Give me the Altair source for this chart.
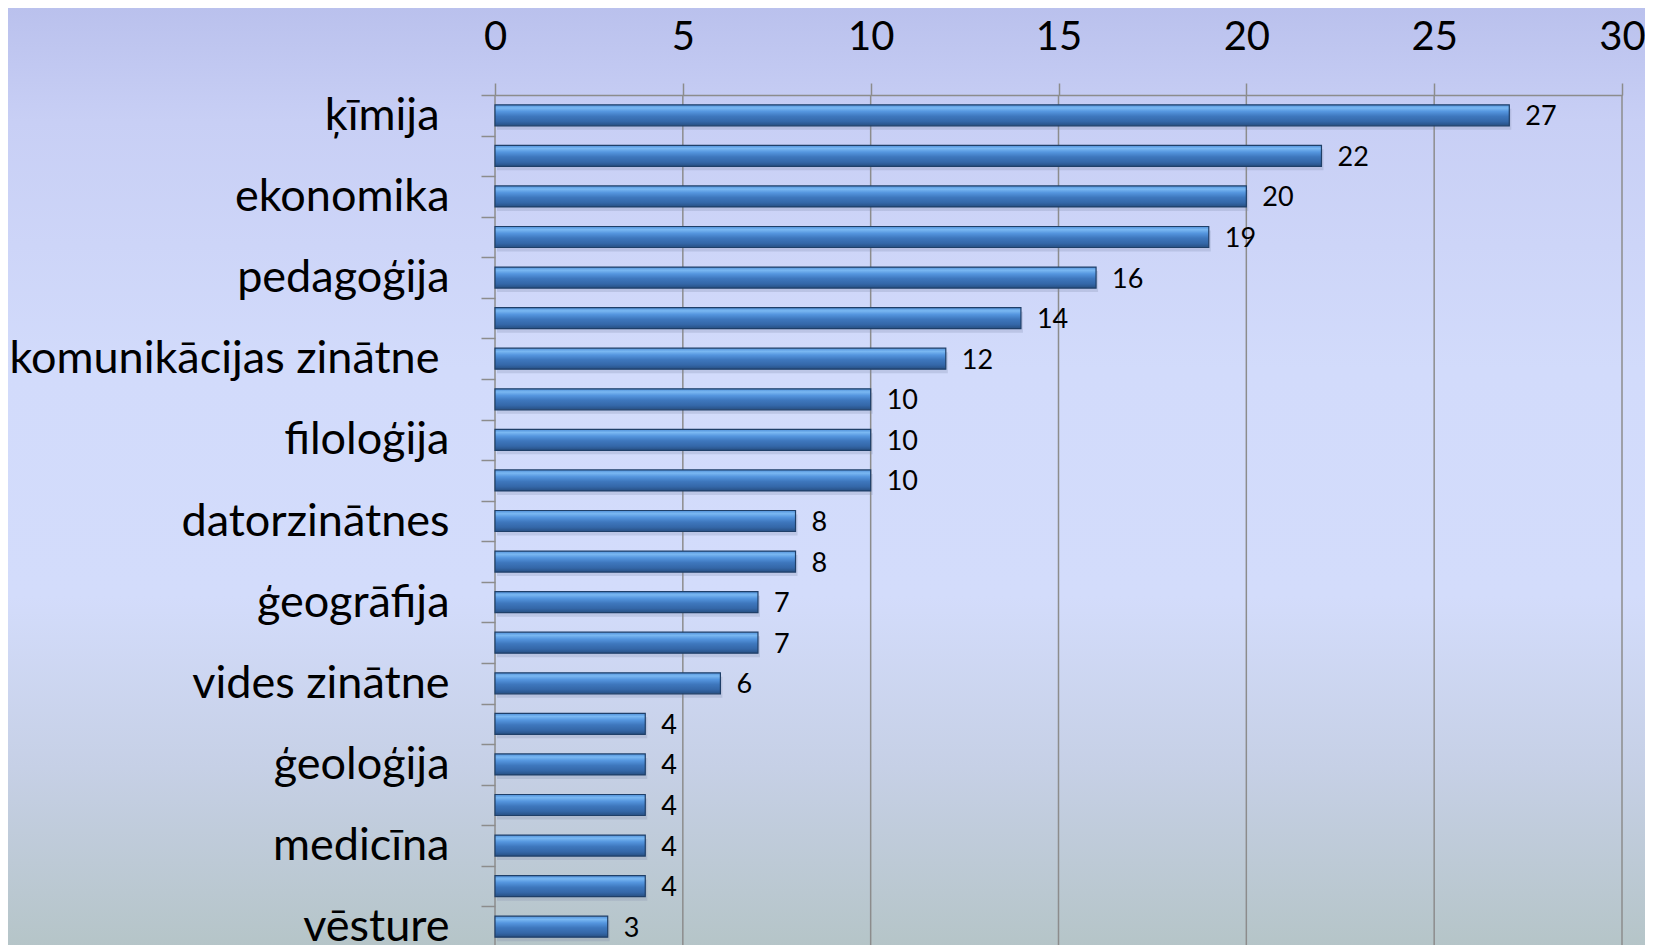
import altair as alt
import pandas as pd

# ---- data ----
categories = [
    "ķīmija", "_2", "ekonomika", "_4", "pedagoģija", "_6",
    "komunikācijas zinātne", "_8", "filoloģija", "_10", "datorzinātnes", "_12",
    "ģeogrāfija", "_14", "vides zinātne", "_16", "ģeoloģija", "_18",
    "medicīna", "_20", "vēsture",
]
values = [27, 22, 20, 19, 16, 14, 12, 10, 10, 10, 8, 8, 7, 7, 6, 4, 4, 4, 4, 4, 3]
x_ticks = [0, 5, 10, 15, 20, 25, 30]

df = pd.DataFrame({"cat": categories, "val": values})
grid_df = pd.DataFrame({"t": x_ticks})
bg_df = pd.DataFrame({"k": [0]})

W, H = 1127, 852
PAD_L, PAD_T, PAD_R, PAD_B = 487, 87, 23, 0
FONT = "Lato"

xscale = alt.Scale(domain=[0, 30], nice=False)
yenc = alt.Y(
    "cat:N",
    sort=categories,
    title=None,
    scale=alt.Scale(paddingInner=0, paddingOuter=0),
    axis=alt.Axis(
        orient="left",
        tickBand="extent",
        tickSize=14,
        tickColor="#8c8c8c",
        tickWidth=1.5,
        domain=False,
        grid=False,
        labelFont=FONT,
        labelFontSize=45,
        labelColor="#000000",
        labelPadding={
            "condition": {
                "test": "datum.value == 'ķīmija' || datum.value == 'komunikācijas zinātne'",
                "value": 42,
            },
            "value": 32,
        },
        labelLimit=600,
        labelExpr="indexof(datum.label, '_') == 0 ? '' : datum.label",
        zindex=1,
    ),
)

bg_grad = alt.Gradient(
    gradient="linear",
    x1=0, x2=0, y1=0, y2=1,
    stops=[
        alt.GradientStop(color="#bac1ed", offset=0.0),
        alt.GradientStop(color="#c8cff5", offset=0.12),
        alt.GradientStop(color="#d2dbfb", offset=0.38),
        alt.GradientStop(color="#d3dcfb", offset=0.62),
        alt.GradientStop(color="#c6d0e6", offset=0.8),
        alt.GradientStop(color="#b4c4c6", offset=1.0),
    ],
)

background = alt.Chart(bg_df).mark_rect(fill=bg_grad).encode(
    x=alt.value(-PAD_L), x2=alt.value(W + PAD_R),
    y=alt.value(-PAD_T), y2=alt.value(H + 10),
)

grid = alt.Chart(grid_df).mark_rule(color="#8c8c8c", strokeWidth=1.5).encode(
    x=alt.X("t:Q", scale=xscale)
)

bar_grad = alt.Gradient(
    gradient="linear",
    x1=0, x2=0, y1=0, y2=1,
    stops=[
        alt.GradientStop(color="#4f8fd8", offset=0.0),
        alt.GradientStop(color="#7ab8f2", offset=0.15),
        alt.GradientStop(color="#5596df", offset=0.32),
        alt.GradientStop(color="#3e77bd", offset=0.55),
        alt.GradientStop(color="#3467a8", offset=0.8),
        alt.GradientStop(color="#274f82", offset=1.0),
    ],
)

shadow = alt.Chart(df).mark_bar(
    size=21, color="#7c86a8", opacity=0.25, xOffset=2, yOffset=4
).encode(x=alt.X("val:Q", scale=xscale), y=yenc)

bars = alt.Chart(df).mark_bar(
    size=21, fill=bar_grad, stroke="#1f3f68", strokeWidth=1.2
).encode(
    x=alt.X(
        "val:Q",
        scale=xscale,
        title=None,
        axis=alt.Axis(
            orient="top",
            values=x_ticks,
            grid=False,
            domain=True,
            domainColor="#8c8c8c",
            domainWidth=1.5,
            ticks=True,
            tickSize=12,
            tickColor="#8c8c8c",
            tickWidth=1.5,
            labelFont=FONT,
            labelFontSize=40,
            labelColor="#000000",
            labelPadding=26,
            labelFlush=False,
            labelOverlap=False,
            zindex=1,
        ),
    ),
    y=yenc,
)

labels = alt.Chart(df).mark_text(
    align="left", baseline="middle", dx=16, dy=2, font=FONT, fontSize=27, color="#000000"
).encode(x=alt.X("val:Q", scale=xscale), y=yenc, text="val:Q")

chart = (
    alt.layer(background, grid, shadow, bars, labels)
    .properties(
        width=W,
        height=H,
        autosize=alt.AutoSizeParams(type="none"),
        padding={"left": PAD_L, "top": PAD_T, "right": PAD_R, "bottom": PAD_B},
        background="#c9d1f4",
    )
    .configure_view(strokeWidth=0)
)

chart.save("out.html", embed_options={"renderer": "svg", "actions": False})
